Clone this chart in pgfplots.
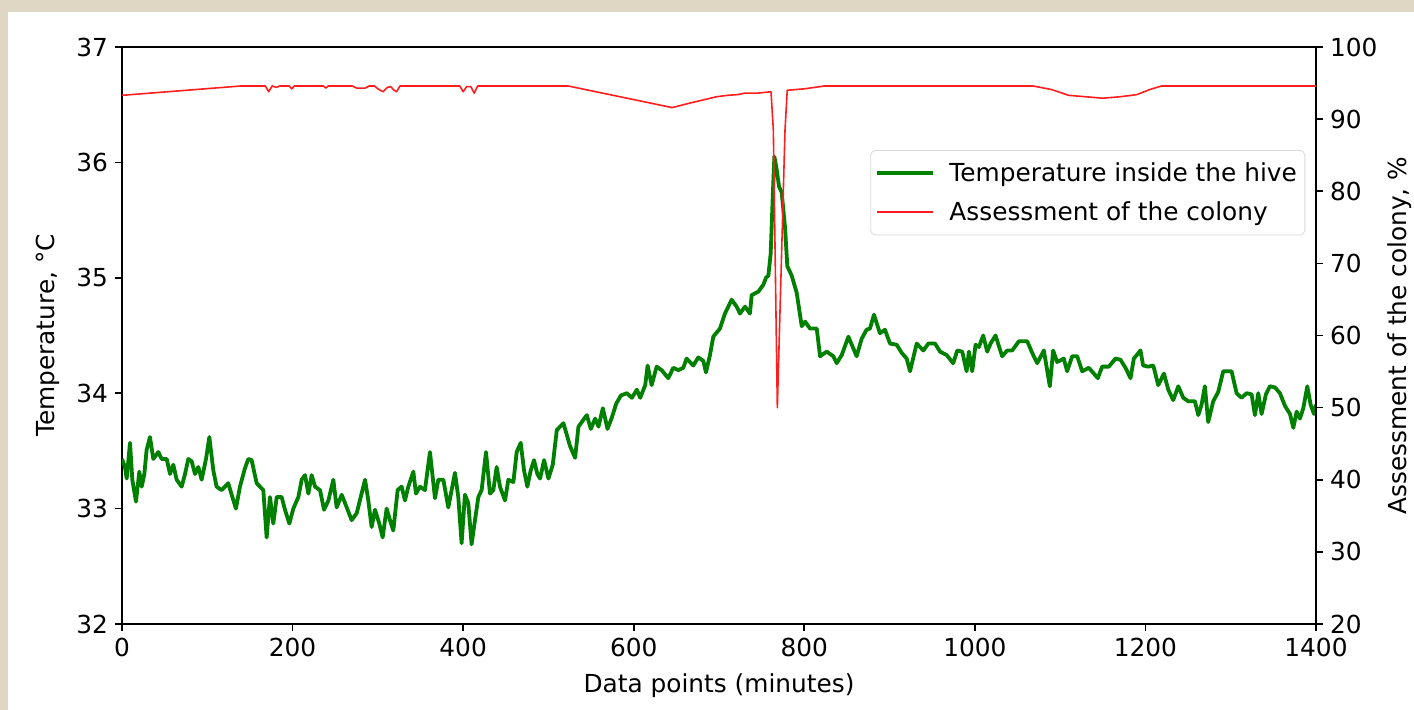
\documentclass[border=0pt]{standalone}
\usepackage{fontspec}
\setmainfont{DejaVu Sans}
\usepackage{pgfplots}
\usepackage{pgfplotstable}
\pgfplotsset{compat=1.18}
\definecolor{mplgreen}{RGB}{0,128,0}
\definecolor{mplred}{RGB}{255,30,30}
\definecolor{marble}{RGB}{224,214,196}
\newcommand{\fs}{\fontsize{12.4}{14.9}\selectfont}

\pgfplotstableread{
x y
0 33.43
3.5 33.36
5.5 33.26
9.4 33.57
12.1 33.25
16.4 33.06
20.3 33.32
23.1 33.19
26.2 33.30
28.9 33.51
32.8 33.62
36.7 33.43
42.6 33.49
46.5 33.43
52.4 33.43
56.3 33.30
60.2 33.38
64.1 33.25
70.0 33.19
73.9 33.30
77.8 33.43
81.7 33.41
85.6 33.30
89.5 33.36
93.4 33.25
98.5 33.43
102.4 33.62
107.1 33.33
110.9 33.19
116.8 33.16
120.7 33.19
124.6 33.22
128.6 33.12
133.6 33.00
138.3 33.19
144.2 33.35
148.1 33.43
152.0 33.42
157.9 33.22
161.8 33.19
165.7 33.16
169.6 32.75
173.5 33.10
177.4 32.87
181.4 33.10
187.2 33.10
191.1 32.99
196.2 32.87
200.9 33.00
206.8 33.10
210.7 33.25
214.6 33.29
218.5 33.13
222.4 33.29
226.3 33.19
232.2 33.16
236.9 32.99
242.0 33.07
247.8 33.25
251.7 33.01
257.6 33.12
263.5 33.01
269.3 32.90
275.2 32.96
279.9 33.10
285.0 33.25
288.8 33.07
292.7 32.84
296.6 32.99
301.7 32.87
305.6 32.75
310.3 33.00
314.2 32.90
318.1 32.81
323.2 33.16
327.9 33.19
331.8 33.07
335.7 33.19
341.6 33.32
344.7 33.13
349.4 33.19
355.2 33.16
361.1 33.49
367.0 33.09
370.9 33.25
376.8 33.25
382.6 33.01
390.4 33.31
394.3 33.10
398.2 32.70
402.1 33.12
406.0 33.05
409.9 32.69
413.9 32.90
417.8 33.10
421.7 33.16
426.8 33.49
431.5 33.13
435.4 33.16
439.3 33.36
443.2 33.19
449.1 33.07
453.0 33.25
458.9 33.23
462.8 33.49
467.5 33.57
471.4 33.33
475.3 33.19
479.2 33.33
483.1 33.42
487.0 33.30
490.2 33.26
494.9 33.42
500.0 33.26
505.1 33.38
509.8 33.68
517.6 33.74
521.5 33.64
525.4 33.54
531.3 33.44
535.2 33.71
539.1 33.75
545.0 33.81
549.7 33.69
554.8 33.78
558.7 33.71
563.8 33.87
569.3 33.69
574.4 33.79
579.5 33.91
585.0 33.98
592.0 34.00
597.8 33.96
603.7 34.03
607.6 33.96
613.5 34.07
616.3 34.24
621.0 34.07
626.9 34.23
632.7 34.20
640.5 34.13
646.4 34.22
652.3 34.20
658.1 34.22
662.0 34.30
669.9 34.24
675.7 34.31
681.6 34.28
684.7 34.18
689.4 34.33
693.3 34.49
701.1 34.56
707.0 34.69
714.8 34.81
720.7 34.75
724.6 34.69
730.5 34.75
736.3 34.69
738.3 34.85
746.1 34.88
752.0 34.94
755.1 35.00
757.9 35.02
760.6 35.21
763.0 35.70
764.9 36.05
767.6 35.94
770.4 35.79
773.5 35.74
777.4 35.44
780.1 35.10
785.2 35.02
791.1 34.87
797.0 34.58
800.9 34.62
806.8 34.56
814.6 34.56
818.5 34.32
826.3 34.36
834.1 34.32
838.0 34.26
843.9 34.33
851.7 34.49
861.4 34.32
867.2 34.47
873.0 34.55
877.0 34.56
881.7 34.68
888.7 34.52
894.6 34.55
900.5 34.43
908.3 34.42
914.2 34.35
920.0 34.30
924.0 34.19
931.8 34.43
939.6 34.37
945.5 34.43
953.3 34.43
959.2 34.36
967.0 34.33
974.6 34.26
979.4 34.37
985.2 34.36
990.3 34.19
993.0 34.36
996.9 34.19
1000.8 34.42
1004.7 34.40
1009.8 34.50
1014.5 34.36
1018.4 34.43
1024.2 34.50
1028.1 34.41
1032.0 34.32
1037.9 34.37
1043.8 34.37
1051.6 34.45
1061.4 34.45
1067.2 34.35
1073.1 34.26
1080.9 34.37
1087.9 34.06
1091.8 34.37
1096.5 34.27
1104.3 34.30
1108.2 34.19
1114.1 34.32
1120.0 34.32
1125.8 34.19
1133.6 34.22
1144.2 34.13
1149.2 34.23
1157.1 34.23
1164.9 34.30
1170.8 34.29
1176.6 34.22
1182.5 34.13
1186.4 34.30
1194.2 34.37
1197.3 34.24
1203.3 34.23
1209.2 34.24
1215.0 34.07
1221.7 34.17
1226.8 34.03
1232.6 33.94
1238.5 34.06
1244.4 33.96
1250.2 33.93
1258.0 33.93
1262.0 33.81
1265.8 33.90
1269.7 34.06
1273.6 33.75
1279.5 33.93
1285.3 34.01
1291.2 34.19
1301.0 34.19
1306.9 34.00
1312.7 33.96
1318.6 34.00
1324.5 33.99
1328.4 33.81
1332.3 34.00
1336.2 33.82
1341.3 33.99
1346.0 34.06
1351.9 34.05
1357.7 34.00
1363.6 33.89
1369.5 33.82
1373.4 33.70
1377.3 33.84
1381.2 33.78
1385.1 33.87
1389.8 34.06
1393.7 33.90
1397.6 33.82
1400.0 33.90
}\temptable

\pgfplotstableread{
x y
0 93.3
140 94.6
168 94.6
172 93.8
176 94.6
181 94.4
185 94.6
196 94.6
199 94.2
202 94.6
236 94.6
239 94.3
242 94.6
270 94.6
275 94.3
285 94.3
290 94.6
296 94.6
300 94.2
306 93.8
311 94.4
315 94.5
319 94.0
322 93.8
326 94.6
396 94.6
400 93.8
404 94.5
409 94.5
413 93.6
417 94.6
523 94.6
645 91.6
665 92.2
697 93.1
710 93.3
722 93.4
730 93.6
745 93.6
761 93.8
763.7 88.5
768.4 50.0
777.4 88.5
780 94.0
800 94.2
824 94.6
1068 94.6
1090 94.1
1110 93.3
1130 93.1
1150 92.9
1170 93.1
1190 93.4
1205 94.1
1219 94.6
1400 94.6
}\colonytable

\begin{document}
\begin{tikzpicture}
\fill[marble] (0pt,0pt) rectangle (707pt,355pt);
\fill[white] (4pt,0pt) rectangle (707pt,349pt);
\useasboundingbox (0pt,0pt) rectangle (707pt,355pt);
\pgfplotsset{
  every axis/.append style={
    at={(61pt,43pt)}, anchor=south west,
    scale only axis, width=597pt, height=288.5pt,
    xmin=0, xmax=1400,
    tick align=outside,
    major tick length=3.5pt,
    axis line style={line width=0.8pt},
    every tick/.style={black,line width=0.8pt},
    tick label style={font=\fs},
    label style={font=\fs},
    /pgf/number format/assume math mode=true,
    /pgf/number format/1000 sep={},
  },
}
\begin{axis}[
  ymin=32, ymax=37,
  tick pos=left,
  xtick={0,200,...,1400},
  ytick={32,33,...,37},
  xlabel={Data points (minutes)},
  ylabel={Temperature, °C},
  xlabel style={at={(axis description cs:0.5,-0.107)}, anchor=center},
  ylabel style={at={(axis description cs:-0.062,0.5)}, anchor=center},
]
\addplot[mplgreen, line width=1.9pt, line join=round] table[x=x,y=y] {\temptable};
\end{axis}
\begin{axis}[
  ymin=20, ymax=100,
  axis x line=none,
  axis y line*=right,
  ytick={20,30,...,100},
  ylabel={Assessment of the colony, \%},
  ylabel style={at={(axis description cs:1.070,0.5)}, anchor=center},
  legend cell align=left,
  legend style={at={(0.991,0.8215)}, anchor=north east, draw=black!15,
    rounded corners=2.5pt, fill=white, font=\fs,
    inner xsep=2pt, inner ysep=4pt, row sep=4.5pt,
    /tikz/every odd column/.append style={column sep=5.5pt}},
  legend image code/.code={\draw[#1] (-1.5pt,0pt) -- (26.5pt,0pt);},
]
\addlegendimage{mplgreen, line width=1.9pt}
\addlegendentry{Temperature inside the hive}
\addplot[mplred, line width=0.8pt, line join=round] table[x=x,y=y] {\colonytable};
\addlegendentry{Assessment of the colony}
\end{axis}
\end{tikzpicture}
\end{document}
